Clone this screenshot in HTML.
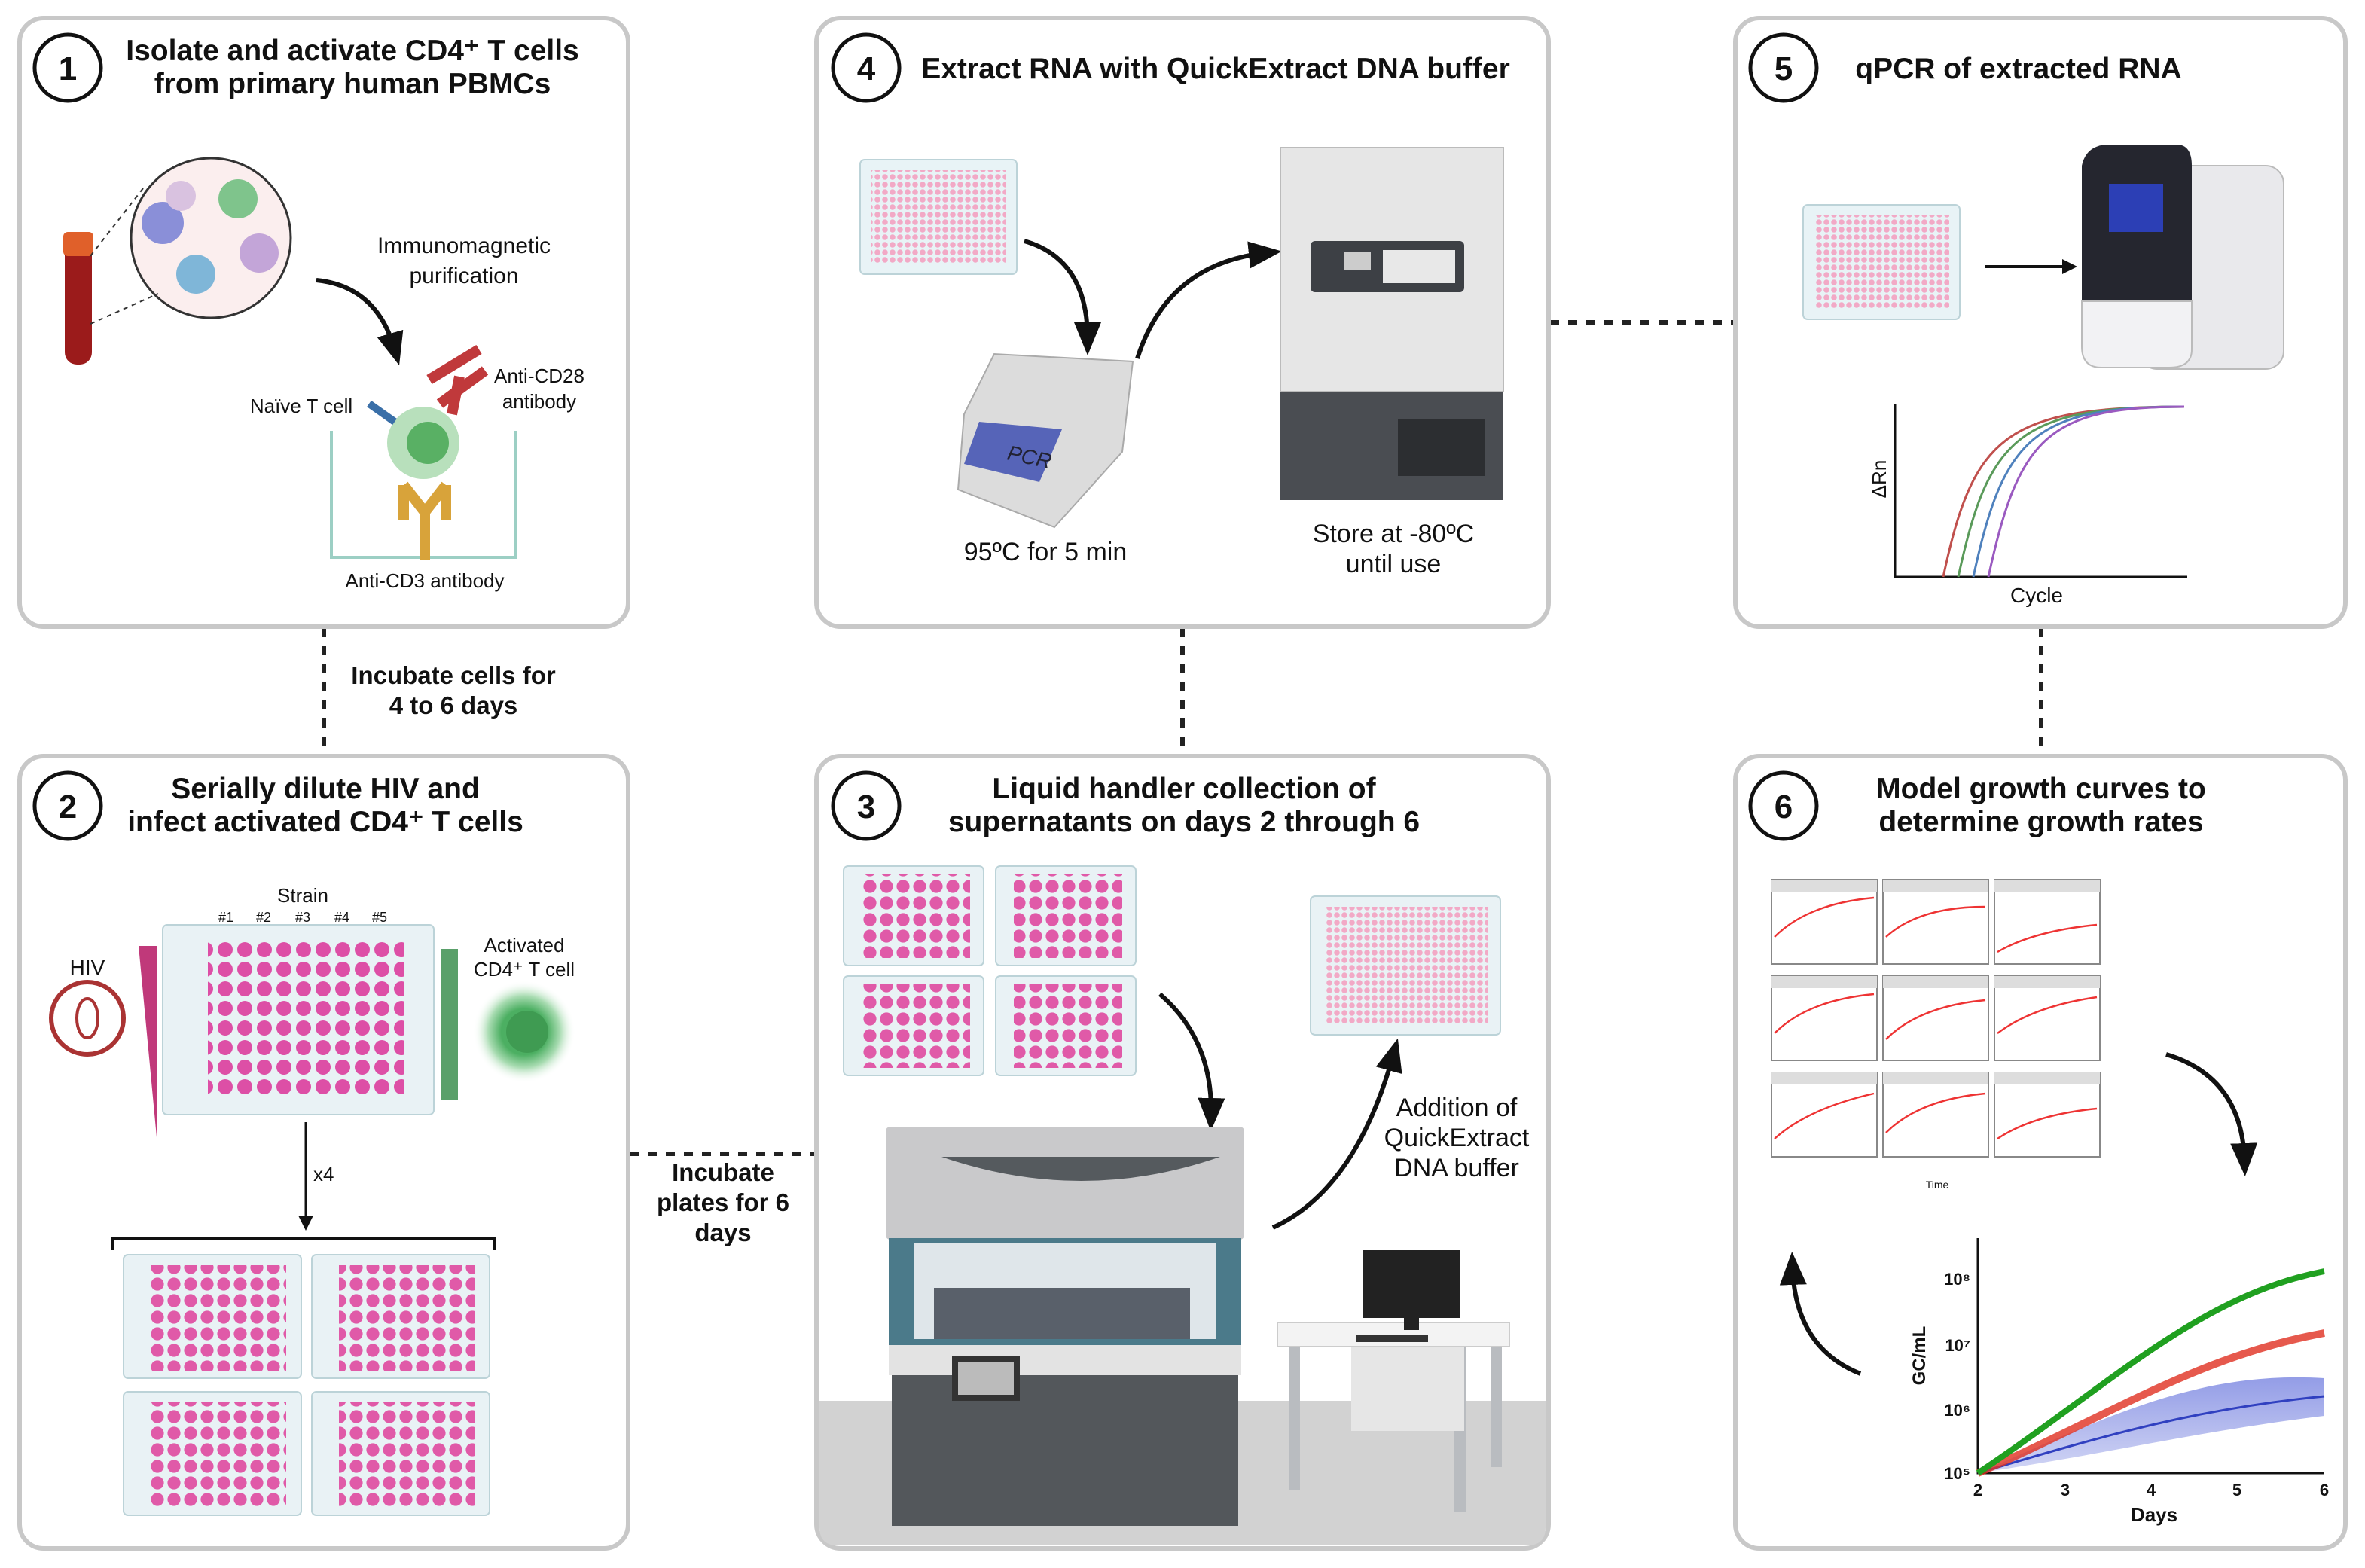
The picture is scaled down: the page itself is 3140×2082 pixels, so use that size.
<!DOCTYPE html>
<html><head><meta charset="utf-8"><style>
html,body{margin:0;padding:0;background:#fff;}
svg{display:block;}
text{font-family:"Liberation Sans",Arial,sans-serif;fill:#111;}
.t{font-weight:bold;font-size:19.5px;}
.s{font-size:15px;}
.xs{font-size:12px;}
</style></head><body>
<svg width="3140" height="2082" viewBox="0 0 1570 1041" xmlns="http://www.w3.org/2000/svg">
<defs>
<pattern id="p384" width="5" height="5" patternUnits="userSpaceOnUse"><circle cx="2.5" cy="2.5" r="1.9" fill="#f2a9c6"/></pattern>
<pattern id="p96" width="11" height="11" patternUnits="userSpaceOnUse"><circle cx="5.5" cy="5.5" r="4.3" fill="#e05aa8"/></pattern>
<pattern id="p96b" width="13" height="13" patternUnits="userSpaceOnUse"><circle cx="6.5" cy="6.5" r="5" fill="#dd4fa6"/></pattern>
<marker id="ah" markerWidth="10" markerHeight="10" refX="5" refY="5" orient="auto" markerUnits="userSpaceOnUse"><path d="M0,0 L10,5 L0,10 z" fill="#111"/></marker>
<marker id="ab" markerWidth="22" markerHeight="22" refX="11" refY="11" orient="auto" markerUnits="userSpaceOnUse"><path d="M0,2 L22,11 L0,20 z" fill="#111"/></marker>
<radialGradient id="glow"><stop offset="0.45" stop-color="#4caf62"/><stop offset="0.7" stop-color="#a9dcb2"/><stop offset="1" stop-color="#fff" stop-opacity="0"/></radialGradient>
<linearGradient id="bluefill" x1="0" y1="0" x2="0" y2="1"><stop offset="0" stop-color="#4b5bd6" stop-opacity=".6"/><stop offset="1" stop-color="#4b5bd6" stop-opacity=".25"/></linearGradient>
</defs>

<g stroke="#222" stroke-width="3" stroke-dasharray="6,6" fill="none">
<line x1="215" y1="417" x2="215" y2="502"/>
<line x1="785" y1="417" x2="785" y2="502"/>
<line x1="1355" y1="417" x2="1355" y2="502"/>
<line x1="1029" y1="214" x2="1152" y2="214"/>
<line x1="418" y1="766" x2="542" y2="766"/>
</g>
<rect x="225" y="436" width="160" height="46" fill="#fff"/>
<text class="t" x="301" y="454" text-anchor="middle" style="font-size:16.5px">Incubate cells for</text>
<text class="t" x="301" y="474" text-anchor="middle" style="font-size:16.5px">4 to 6 days</text>
<rect x="430" y="768" width="100" height="60" fill="#fff"/>
<text class="t" x="480" y="784" text-anchor="middle" style="font-size:16.5px">Incubate</text>
<text class="t" x="480" y="804" text-anchor="middle" style="font-size:16.5px">plates for 6</text>
<text class="t" x="480" y="824" text-anchor="middle" style="font-size:16.5px">days</text>

<g fill="#fff" stroke="#c8c8c8" stroke-width="3">
<rect x="13" y="12" width="404" height="404" rx="16"/>
<rect x="542" y="12" width="486" height="404" rx="16"/>
<rect x="1152" y="12" width="405" height="404" rx="16"/>
<rect x="13" y="502" width="404" height="526" rx="16"/>
<rect x="542" y="502" width="486" height="526" rx="16"/>
<rect x="1152" y="502" width="405" height="526" rx="16"/>
</g>

<g fill="#fff" stroke="#111" stroke-width="2.5">
<circle cx="45" cy="45" r="22"/><circle cx="575" cy="45" r="22"/><circle cx="1184" cy="45" r="22"/>
<circle cx="45" cy="535" r="22"/><circle cx="575" cy="535" r="22"/><circle cx="1184" cy="535" r="22"/>
</g>
<g text-anchor="middle">
<text x="45" y="53" class="t" style="font-size:22px">1</text><text x="575" y="53" class="t" style="font-size:22px">4</text><text x="1184" y="53" class="t" style="font-size:22px">5</text>
<text x="45" y="543" class="t" style="font-size:22px">2</text><text x="575" y="543" class="t" style="font-size:22px">3</text><text x="1184" y="543" class="t" style="font-size:22px">6</text>
</g>

<text class="t" x="234" y="40" text-anchor="middle">Isolate and activate CD4⁺ T cells</text>
<text class="t" x="234" y="62" text-anchor="middle">from primary human PBMCs</text>
<text class="t" x="807" y="52" text-anchor="middle">Extract RNA with QuickExtract DNA buffer</text>
<text class="t" x="1340" y="52" text-anchor="middle">qPCR of extracted RNA</text>
<text class="t" x="216" y="530" text-anchor="middle">Serially dilute HIV and</text>
<text class="t" x="216" y="552" text-anchor="middle">infect activated CD4⁺ T cells</text>
<text class="t" x="786" y="530" text-anchor="middle">Liquid handler collection of</text>
<text class="t" x="786" y="552" text-anchor="middle">supernatants on days 2 through 6</text>
<text class="t" x="1355" y="530" text-anchor="middle">Model growth curves to</text>
<text class="t" x="1355" y="552" text-anchor="middle">determine growth rates</text>

<!-- PANEL 1 -->
<rect x="43" y="160" width="18" height="82" rx="8" fill="#9b1b1b"/>
<rect x="42" y="154" width="20" height="16" rx="3" fill="#e0602a"/>
<circle cx="140" cy="158" r="53" fill="#fbeeee" stroke="#333" stroke-width="1.5"/>
<line x1="60" y1="170" x2="95" y2="125" stroke="#333" stroke-dasharray="3,3"/>
<line x1="60" y1="215" x2="105" y2="195" stroke="#333" stroke-dasharray="3,3"/>
<circle cx="108" cy="148" r="14" fill="#8a8fd8"/><circle cx="158" cy="132" r="13" fill="#7fc48c"/>
<circle cx="130" cy="182" r="13" fill="#7fb6d8"/><circle cx="172" cy="168" r="13" fill="#c3a5d8"/><circle cx="120" cy="130" r="10" fill="#d9c2e0"/>
<text class="s" x="308" y="168" text-anchor="middle">Immunomagnetic</text>
<text class="s" x="308" y="188" text-anchor="middle">purification</text>
<path d="M210,186 Q250,190 262,232" stroke="#111" stroke-width="3" fill="none" marker-end="url(#ab)"/>
<path d="M220,286 V370 H342 V286" stroke="#9ccfc4" stroke-width="2" fill="none"/>
<circle cx="281" cy="294" r="24" fill="#b8e0bc"/><circle cx="284" cy="294" r="14" fill="#59b064"/>
<path d="M268,322 V345 M296,322 V345 M268,322 L282,340 L296,322 M282,340 V372" stroke="#d8a33a" stroke-width="7" fill="none"/>
<path d="M285,252 L318,232 M292,268 L322,246 M300,275 L305,250" stroke="#c0393b" stroke-width="7"/>
<line x1="245" y1="268" x2="262" y2="280" stroke="#3a6fa8" stroke-width="5"/>
<text class="xs" x="200" y="274" text-anchor="middle" style="font-size:13px">Naïve T cell</text>
<text class="xs" x="358" y="254" text-anchor="middle" style="font-size:13px">Anti-CD28</text>
<text class="xs" x="358" y="271" text-anchor="middle" style="font-size:13px">antibody</text>
<text class="xs" x="282" y="390" text-anchor="middle" style="font-size:13px">Anti-CD3 antibody</text>

<!-- PANEL 4 -->
<rect x="571" y="106" width="104" height="76" rx="3" fill="#e8f3f6" stroke="#bcd3d8"/>
<rect x="578" y="113" width="90" height="62" fill="url(#p384)"/>
<path d="M680,160 Q722,172 722,225" stroke="#111" stroke-width="3" fill="none" marker-end="url(#ab)"/>
<path d="M640,275 L660,235 L752,240 L745,300 L700,350 L636,325 Z" fill="#dcdcdc" stroke="#aaa"/>
<path d="M650,280 L705,285 L690,320 L640,308 Z" fill="#5664b8"/>
<text x="668" y="305" style="font-size:14px;fill:#223;font-style:italic" transform="rotate(12 668 305)">PCR</text>
<text class="s" x="694" y="372" text-anchor="middle" style="font-size:17px">95ºC for 5 min</text>
<path d="M755,238 Q775,175 840,168" stroke="#111" stroke-width="3" fill="none" marker-end="url(#ab)"/>
<rect x="850" y="98" width="148" height="162" fill="#e6e6e6" stroke="#bbb"/>
<rect x="850" y="260" width="148" height="72" fill="#4a4d52"/>
<rect x="928" y="278" width="58" height="38" fill="#2c2e31"/>
<rect x="870" y="160" width="102" height="34" rx="3" fill="#3d4045"/>
<rect x="918" y="166" width="48" height="22" fill="#e8e8e8"/>
<rect x="892" y="167" width="18" height="12" fill="#ccc"/>
<text class="s" x="925" y="360" text-anchor="middle" style="font-size:17px">Store at -80ºC</text>
<text class="s" x="925" y="380" text-anchor="middle" style="font-size:17px">until use</text>

<!-- PANEL 5 -->
<rect x="1197" y="136" width="104" height="76" rx="3" fill="#e8f3f6" stroke="#bcd3d8"/>
<rect x="1204" y="143" width="90" height="62" fill="url(#p384)"/>
<line x1="1318" y1="177" x2="1374" y2="177" stroke="#111" stroke-width="2" marker-end="url(#ah)"/>
<rect x="1420" y="110" width="96" height="135" rx="12" fill="#e9e9ec" stroke="#bbb"/>
<path d="M1382,110 Q1385,96 1400,96 H1445 Q1455,96 1455,110 V220 Q1455,240 1440,240 H1395 Q1382,240 1382,225 Z" fill="#25262f"/>
<rect x="1400" y="122" width="36" height="32" fill="#2c3fb5"/>
<path d="M1382,200 H1455 V232 Q1455,244 1440,244 H1395 Q1382,244 1382,230 Z" fill="#f2f2f4" stroke="#bbb"/>
<path d="M1258,268 V383 H1452" stroke="#111" stroke-width="1.5" fill="none"/>
<g fill="none" stroke-width="1.5">
<path d="M1290,383 C1310,290 1330,270 1450,270" stroke="#c0504d"/>
<path d="M1300,383 C1320,290 1340,270 1450,270" stroke="#5a9a5a"/>
<path d="M1310,383 C1330,290 1350,270 1450,270" stroke="#4f81bd"/>
<path d="M1320,383 C1340,290 1360,270 1450,270" stroke="#9a5ac0"/>
</g>
<text class="xs" x="1352" y="400" text-anchor="middle" style="font-size:14px">Cycle</text>
<text class="xs" x="1252" y="318" text-anchor="middle" transform="rotate(-90 1252 318)" style="font-size:13px">ΔRn</text>

<!-- PANEL 2 -->
<text class="xs" x="201" y="599" text-anchor="middle" style="font-size:13px">Strain</text>
<g class="xs" style="font-size:9px">
<text x="145" y="612">#1</text><text x="170" y="612">#2</text><text x="196" y="612">#3</text><text x="222" y="612">#4</text><text x="247" y="612">#5</text>
</g>
<rect x="108" y="614" width="180" height="126" rx="3" fill="#e9f2f5" stroke="#bcd3d8"/>
<rect x="138" y="625" width="130" height="104" fill="url(#p96b)"/>
<circle cx="58" cy="676" r="24" fill="#fff" stroke="#a33" stroke-width="3"/>
<ellipse cx="58" cy="676" rx="7" ry="13" fill="none" stroke="#a33" stroke-width="2"/>
<text class="s" x="58" y="647" text-anchor="middle" style="font-size:14px">HIV</text>
<path d="M92,628 L104,628 L104,755 Z" fill="#c0397a"/>
<rect x="293" y="630" width="11" height="100" fill="#5aa06a"/>
<circle cx="348" cy="685" r="34" fill="url(#glow)"/>
<circle cx="350" cy="685" r="14" fill="#3f9b52"/>
<text class="xs" x="348" y="632" text-anchor="middle" style="font-size:13px">Activated</text>
<text class="xs" x="348" y="648" text-anchor="middle" style="font-size:13px">CD4⁺ T cell</text>
<line x1="203" y1="745" x2="203" y2="812" stroke="#111" stroke-width="1.5" marker-end="url(#ah)"/>
<text class="xs" x="208" y="784" style="font-size:13px">x4</text>
<path d="M75,830 V822 H328 V830" stroke="#111" stroke-width="2" fill="none"/>
<g>
<rect x="82" y="833" width="118" height="82" rx="3" fill="#e9f2f5" stroke="#bcd3d8"/><rect x="100" y="840" width="90" height="70" fill="url(#p96)"/>
<rect x="207" y="833" width="118" height="82" rx="3" fill="#e9f2f5" stroke="#bcd3d8"/><rect x="225" y="840" width="90" height="70" fill="url(#p96)"/>
<rect x="82" y="924" width="118" height="82" rx="3" fill="#e9f2f5" stroke="#bcd3d8"/><rect x="100" y="931" width="90" height="70" fill="url(#p96)"/>
<rect x="207" y="924" width="118" height="82" rx="3" fill="#e9f2f5" stroke="#bcd3d8"/><rect x="225" y="931" width="90" height="70" fill="url(#p96)"/>
</g>

<!-- PANEL 3 -->
<path d="M544,930 H1026 V1014 Q1026,1026 1014,1026 H556 Q544,1026 544,1014 Z" fill="#d2d2d2"/>
<g>
<rect x="560" y="575" width="93" height="66" rx="3" fill="#e9f2f5" stroke="#bcd3d8"/><rect x="572" y="580" width="72" height="56" fill="url(#p96)"/>
<rect x="661" y="575" width="93" height="66" rx="3" fill="#e9f2f5" stroke="#bcd3d8"/><rect x="673" y="580" width="72" height="56" fill="url(#p96)"/>
<rect x="560" y="648" width="93" height="66" rx="3" fill="#e9f2f5" stroke="#bcd3d8"/><rect x="572" y="653" width="72" height="56" fill="url(#p96)"/>
<rect x="661" y="648" width="93" height="66" rx="3" fill="#e9f2f5" stroke="#bcd3d8"/><rect x="673" y="653" width="72" height="56" fill="url(#p96)"/>
</g>
<rect x="870" y="595" width="126" height="92" rx="3" fill="#e9f2f5" stroke="#bcd3d8"/>
<rect x="880" y="602" width="108" height="78" fill="url(#p384)"/>
<path d="M770,660 Q805,690 804,740" stroke="#111" stroke-width="3" fill="none" marker-end="url(#ab)"/>
<path d="M845,815 Q900,790 925,700" stroke="#111" stroke-width="3" fill="none" marker-end="url(#ab)"/>
<text class="s" x="967" y="741" text-anchor="middle" style="font-size:17px">Addition of</text>
<text class="s" x="967" y="761" text-anchor="middle" style="font-size:17px">QuickExtract</text>
<text class="s" x="967" y="781" text-anchor="middle" style="font-size:17px">DNA buffer</text>
<rect x="588" y="748" width="238" height="75" rx="3" fill="#c9c9cb"/>
<path d="M625,768 H810 Q718,800 625,768 Z" fill="#555a5e"/>
<rect x="590" y="822" width="234" height="74" fill="#4b7a8a"/>
<rect x="607" y="825" width="200" height="64" fill="#dfe6ea"/>
<rect x="620" y="855" width="170" height="34" fill="#59606a"/>
<rect x="590" y="893" width="234" height="20" fill="#e3e3e3"/>
<rect x="592" y="913" width="230" height="100" fill="#53575b"/>
<rect x="632" y="900" width="45" height="30" fill="#333"/><rect x="636" y="904" width="37" height="22" fill="#bbb"/>
<rect x="848" y="878" width="154" height="16" fill="#f3f3f3" stroke="#ccc"/>
<rect x="905" y="830" width="64" height="45" fill="#222"/>
<rect x="932" y="875" width="10" height="8" fill="#222"/>
<rect x="900" y="886" width="48" height="5" fill="#333"/>
<g fill="#b9bcc0"><rect x="856" y="894" width="7" height="95"/><rect x="965" y="894" width="8" height="110"/><rect x="990" y="894" width="7" height="80"/></g>
<rect x="897" y="894" width="75" height="56" fill="#e6e6e6"/>

<!-- PANEL 6 -->
<g stroke="#888" stroke-width="1" fill="#fff">
<rect x="1176" y="584" width="70" height="56"/><rect x="1250" y="584" width="70" height="56"/><rect x="1324" y="584" width="70" height="56"/>
<rect x="1176" y="648" width="70" height="56"/><rect x="1250" y="648" width="70" height="56"/><rect x="1324" y="648" width="70" height="56"/>
<rect x="1176" y="712" width="70" height="56"/><rect x="1250" y="712" width="70" height="56"/><rect x="1324" y="712" width="70" height="56"/>
</g>
<g fill="#ddd"><rect x="1176" y="584" width="70" height="8"/><rect x="1250" y="584" width="70" height="8"/><rect x="1324" y="584" width="70" height="8"/>
<rect x="1176" y="648" width="70" height="8"/><rect x="1250" y="648" width="70" height="8"/><rect x="1324" y="648" width="70" height="8"/>
<rect x="1176" y="712" width="70" height="8"/><rect x="1250" y="712" width="70" height="8"/><rect x="1324" y="712" width="70" height="8"/></g>
<g stroke="#e33" fill="none" stroke-width="1.2">
<path d="M1178,622 Q1200,600 1244,596"/><path d="M1252,622 Q1274,602 1318,602"/><path d="M1326,632 Q1350,618 1392,614"/>
<path d="M1178,686 Q1200,664 1244,660"/><path d="M1252,690 Q1274,668 1318,664"/><path d="M1326,686 Q1350,668 1392,662"/>
<path d="M1178,756 Q1200,736 1244,726"/><path d="M1252,752 Q1274,730 1318,726"/><path d="M1326,756 Q1350,740 1392,736"/>
</g>
<text x="1286" y="789" text-anchor="middle" style="font-size:7px">Time</text>
<path d="M1438,700 Q1488,715 1490,770" stroke="#111" stroke-width="3" fill="none" marker-end="url(#ab)"/>
<path d="M1235,912 Q1192,895 1190,842" stroke="#111" stroke-width="3" fill="none" marker-end="url(#ab)"/>
<path d="M1313,822 V978 H1543" stroke="#111" stroke-width="1.5" fill="none"/>
<path d="M1313,978 C1400,940 1460,910 1543,915 L1543,940 C1460,950 1400,965 1313,978 Z" fill="url(#bluefill)"/>
<path d="M1313,978 C1400,952 1460,935 1543,927" stroke="#3040c0" stroke-width="1.5" fill="none"/>
<path d="M1313,978 C1400,940 1460,900 1543,885" stroke="#e03020" stroke-width="5" fill="none" opacity=".8"/>
<path d="M1313,978 C1400,920 1460,860 1543,844" stroke="#20a020" stroke-width="4" fill="none"/>
<g style="font-size:11px;font-weight:bold" text-anchor="end">
<text x="1308" y="853">10⁸</text><text x="1308" y="897">10⁷</text><text x="1308" y="940">10⁶</text><text x="1308" y="982">10⁵</text>
</g>
<g style="font-size:11px;font-weight:bold" text-anchor="middle">
<text x="1313" y="993">2</text><text x="1371" y="993">3</text><text x="1428" y="993">4</text><text x="1485" y="993">5</text><text x="1543" y="993">6</text>
</g>
<text x="1430" y="1010" text-anchor="middle" style="font-size:13px;font-weight:bold">Days</text>
<text x="1278" y="900" text-anchor="middle" transform="rotate(-90 1278 900)" style="font-size:12px;font-weight:bold">GC/mL</text>
</svg>
</body></html>
